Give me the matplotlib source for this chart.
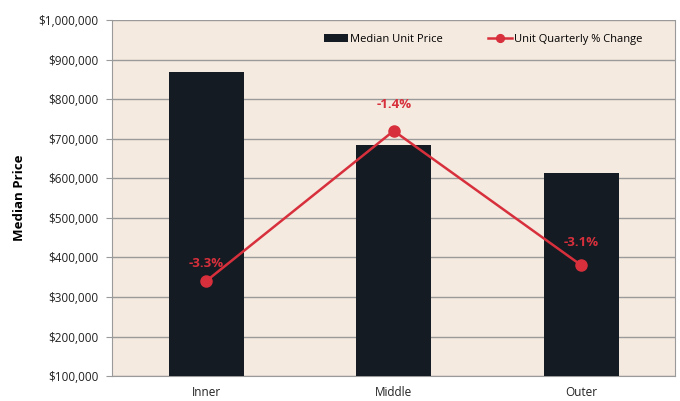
import matplotlib.pyplot as plt
from matplotlib.ticker import FuncFormatter

regions = ["Inner", "Middle", "Outer"]
median_price = [869000, 684000, 614000]
quarterly_change = [-3.3, -1.4, -3.1]

bar_color = "#141b22"
line_color = "#d7303c"
bg_color = "#f5eae0"
grid_color = "#9a9a9a"

plt.rcParams["font.family"] = ["Open Sans", "DejaVu Sans"]

fig = plt.figure(figsize=(6.8, 4.01), dpi=100)
ax = fig.add_axes([0.165, 0.062, 0.828, 0.888])
ax.set_facecolor(bg_color)

x = list(range(len(regions)))
bars = ax.bar(x, median_price, width=0.4, color=bar_color, zorder=3,
              label="Median Unit Price")

ax.set_xlim(-0.5, 2.5)
ax.set_ylim(100000, 1000000)
ax.set_yticks(range(100000, 1000001, 100000))
ax.yaxis.set_major_formatter(FuncFormatter(lambda v, p: "${:,.0f}".format(v)))
ax.set_xticks(x)
ax.set_xticklabels(regions)
ax.tick_params(axis="x", length=0, pad=7, labelsize=8.5, colors="#222222")
ax.tick_params(axis="y", length=4, color=grid_color, labelsize=8.5,
               labelcolor="#222222", pad=6)
ax.grid(axis="y", color=grid_color, linewidth=1, zorder=1)
for side in ["left", "right", "bottom", "top"]:
    ax.spines[side].set_color(grid_color)
ax.spines["top"].set_visible(False)
ax.set_ylabel("Median Price", fontsize=9.5, fontweight="bold", labelpad=9)

# secondary axis for the % change line (hidden)
ax2 = ax.twinx()
ax2.set_ylim(-4.5, 0)
ax2.set_yticks([])
for side in ["left", "right", "bottom", "top"]:
    ax2.spines[side].set_visible(False)
line, = ax2.plot(x, quarterly_change, color=line_color, linewidth=1.8,
                 marker="o", markersize=8, zorder=4,
                 label="Unit Quarterly % Change")
offsets = [8, 14, 12]
for xi, v, off in zip(x, quarterly_change, offsets):
    ax2.annotate("{:.1f}%".format(v), (xi, v), xytext=(0, off),
                 textcoords="offset points", ha="center", va="bottom",
                 color=line_color, fontsize=9.5, fontweight="bold")

leg = ax2.legend([bars, line], ["Median Unit Price", "Unit Quarterly % Change"],
                 loc="upper right", bbox_to_anchor=(0.96, 0.99), ncol=2,
                 frameon=False, fontsize=8, handlelength=2.2,
                 handletextpad=0.2, columnspacing=4.0, markerscale=0.7)

fig.savefig("out.png", dpi=100)
